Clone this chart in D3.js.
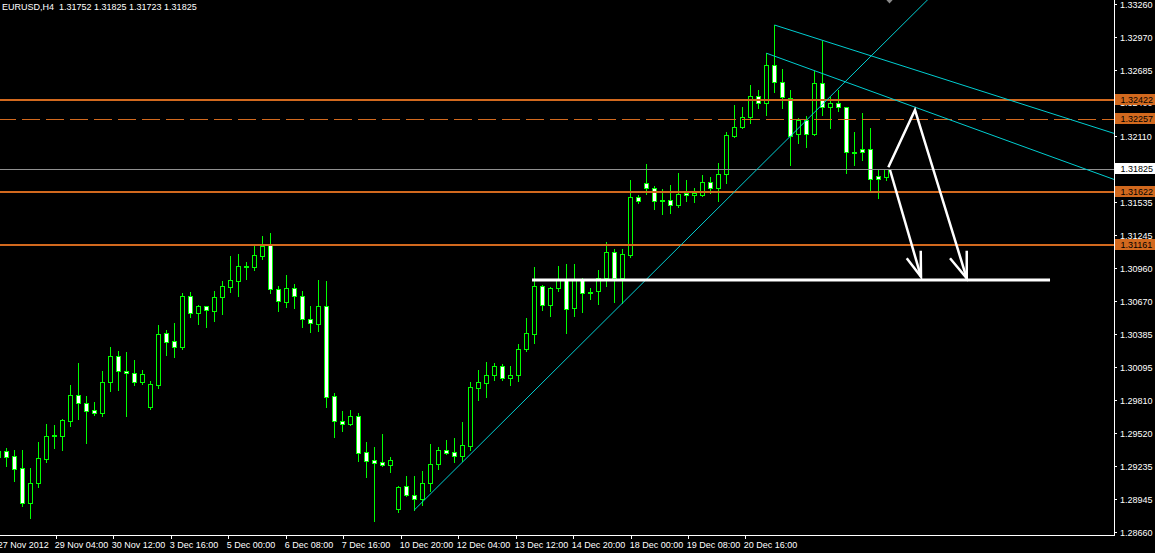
<!DOCTYPE html>
<html><head><meta charset="utf-8">
<script src="https://cdn.jsdelivr.net/npm/d3@7"></script>
<style>
html,body{margin:0;padding:0;background:#000;overflow:hidden;}
svg{display:block;}
</style></head><body>
<svg id="chart" width="1155" height="553"></svg>
<script>
// ---------------- DATA ----------------
const chartTitle = "EURUSD,H4  1.31752 1.31825 1.31723 1.31825";
const firstBar = -1; // index of first (partially visible) bar

const opens = [1.29316,1.29366,1.29319,1.29215,1.28910,1.29084,1.29299,1.29493,1.29499,1.29630,
1.29851,1.29781,1.29720,1.29700,1.29964,1.30190,1.30060,1.30042,1.29970,1.29752,
1.29941,1.30391,1.30321,1.30275,1.30713,1.30565,1.30626,1.30588,1.30704,1.30797,
1.30850,1.30975,1.30972,1.31067,1.31169,1.30774,1.30667,1.30783,1.30713,1.30513,
1.30475,1.30626,1.29842,1.29624,1.29604,1.29668,1.29354,1.29284,1.29267,1.29247,
1.28858,1.29061,1.28984,1.28950,1.29084,1.29250,1.29374,1.29354,1.29325,1.29409,
1.29918,1.29961,1.30024,1.30103,1.30005,1.30024,1.30251,1.30388,1.30806,1.30641,
1.30783,1.30855,1.30614,1.30855,1.30754,1.30763,1.30870,1.31099,1.30876,1.31073,
1.31581,1.31698,1.31654,1.31541,1.31553,1.31510,1.31617,1.31596,1.31599,1.31707,
1.31654,1.31776,1.32113,1.32186,1.32273,1.32462,1.32395,1.32726,1.32578,1.32444,
1.32125,1.32250,1.32125,1.32569,1.32359,1.32395,1.32359,1.31974,1.31997,1.31995,
1.31758,1.31752];

const highs = [1.29389,1.29389,1.29374,1.29374,1.29218,1.29446,1.29602,1.29593,1.29645,1.29941,
1.30132,1.29842,1.29796,1.30062,1.30272,1.30237,1.30228,1.30158,1.30069,1.29976,
1.30463,1.30420,1.30481,1.30739,1.30751,1.30635,1.30629,1.30760,1.30847,1.31064,
1.31082,1.31012,1.31152,1.31239,1.31265,1.30803,1.30899,1.30821,1.30760,1.30629,
1.30855,1.30846,1.29868,1.29714,1.29723,1.29694,1.29445,1.29402,1.29513,1.29311,
1.29061,1.29148,1.29148,1.29195,1.29423,1.29401,1.29461,1.29479,1.29618,1.29964,
1.30069,1.30141,1.30132,1.30121,1.30106,1.30295,1.30524,1.30969,1.30812,1.30797,
1.30978,1.30995,1.30995,1.30870,1.30783,1.30943,1.31187,1.31122,1.31122,1.31727,
1.31596,1.31866,1.31674,1.31645,1.31684,1.31784,1.31727,1.31660,1.31770,1.31756,
1.31874,1.32148,1.32380,1.32359,1.32554,1.32511,1.32833,1.33077,1.32694,1.32511,
1.32264,1.32284,1.32679,1.32940,1.32453,1.32511,1.32365,1.32148,1.32308,1.32183,
1.31820,1.31825];

const lows = [1.29287,1.29235,1.29107,1.28887,1.28785,1.29055,1.29273,1.29395,1.29374,1.29583,
1.29645,1.29438,1.29679,1.29674,1.29891,1.29897,1.29674,1.29941,1.29952,1.29731,
1.29918,1.30202,1.30188,1.30251,1.30536,1.30475,1.30449,1.30501,1.30562,1.30754,
1.30719,1.30867,1.30942,1.31041,1.30739,1.30588,1.30623,1.30614,1.30442,1.30405,
1.30414,1.29752,1.29491,1.29543,1.29593,1.29281,1.29141,1.28757,1.29233,1.29186,
1.28838,1.28972,1.28852,1.28898,1.29017,1.29212,1.29336,1.29273,1.29281,1.29374,
1.29810,1.29839,1.29983,1.29983,1.29941,1.29976,1.30237,1.30309,1.30594,1.30542,
1.30760,1.30394,1.30542,1.30577,1.30690,1.30647,1.30803,1.30667,1.30652,1.31059,
1.31529,1.31602,1.31471,1.31428,1.31443,1.31489,1.31544,1.31538,1.31590,1.31612,
1.31544,1.31704,1.32104,1.32177,1.32220,1.32350,1.32291,1.32496,1.32357,1.31857,
1.32052,1.32017,1.32122,1.32291,1.32179,1.32328,1.31790,1.31857,1.31901,1.31630,
1.31572,1.31723];

const closes = [1.29366,1.29316,1.29212,1.28910,1.29084,1.29302,1.29493,1.29502,1.29633,1.29851,
1.29781,1.29717,1.29700,1.29964,1.30190,1.30060,1.30042,1.29970,1.30034,1.29947,
1.30382,1.30318,1.30275,1.30713,1.30565,1.30626,1.30591,1.30704,1.30800,1.30853,
1.30975,1.30978,1.31070,1.31154,1.30774,1.30669,1.30783,1.30713,1.30513,1.30478,
1.30626,1.29839,1.29624,1.29598,1.29668,1.29352,1.29276,1.29258,1.29247,1.29287,
1.29052,1.28981,1.28950,1.29084,1.29250,1.29371,1.29352,1.29325,1.29415,1.29920,
1.29964,1.30027,1.30103,1.30005,1.30027,1.30251,1.30391,1.30800,1.30641,1.30783,
1.30855,1.30606,1.30855,1.30739,1.30751,1.30870,1.31099,1.30876,1.31082,1.31581,
1.31547,1.31654,1.31541,1.31550,1.31510,1.31605,1.31596,1.31612,1.31707,1.31654,
1.31779,1.32119,1.32186,1.32273,1.32462,1.32395,1.32732,1.32578,1.32447,1.32113,
1.32250,1.32125,1.32569,1.32359,1.32395,1.32365,1.31968,1.31971,1.31974,1.31739,
1.31739,1.31825];

const priceTicks = [1.33260,1.32970,1.32685,1.32400,1.32110,1.31825,1.31535,1.31245,1.30960,
1.30670,1.30385,1.30095,1.29810,1.29520,1.29235,1.28945,1.28660];

const timeLabels = ["27 Nov 2012","29 Nov 04:00","30 Nov 12:00","3 Dec 16:00","5 Dec 00:00",
"6 Dec 08:00","7 Dec 16:00","10 Dec 20:00","12 Dec 04:00","13 Dec 12:00","14 Dec 20:00",
"18 Dec 00:00","19 Dec 08:00","20 Dec 16:00"];

const levelPrices = [1.32422, 1.31622, 1.31161];   // solid horizontal lines
const dashedLevelPrices = [1.32257];               // dashed horizontal line
const bidPrice = 1.31825;

// trend lines: [bar1, price1, bar2, price2] (rays to the right)
const trendRays = [
  [50.98, 1.28852, 84.21, 1.31154],
  [96, 1.33077, 138.38, 1.32134],
  [95, 1.32831, 138.38, 1.31733]
];

// white hand-drawn annotations: [bar, price]
const supportLine = [[65.69, 1.30856], [130.44, 1.30856]];
const zigzagPath = [[110.23, 1.31837], [113.56, 1.32337], [120.03, 1.30870]];
const arrowPath = [[110.44, 1.31814], [114.31, 1.30884]];
const arrowHeads = [
  [[112.53, 1.31045], [114.31, 1.30884], [114.28, 1.31111]],
  [[117.94, 1.31045], [120.03, 1.30870], [120.03, 1.31111]]
];

// ---------------- LAYOUT ----------------
const W = 1155, H = 553;
const plotRight = 1114, plotBottom = 535;
const FONT = "'Liberation Sans', Arial, sans-serif";
const GREEN = "#00ff00", ORANGE = "#D2691E", CYAN = "#00CED1";

const svg = d3.select("#chart");
svg.append("rect").attr("width", W).attr("height", H).attr("fill", "#000");

const x = d3.scaleLinear().domain([0, 110]).range([6.5, 886.5]);
const y = d3.scaleLinear().domain([1.28660, 1.33260]).range([532, 4]);

svg.append("clipPath").attr("id", "plotClip").append("rect")
  .attr("x", 0).attr("y", 0).attr("width", plotRight).attr("height", plotBottom);
const plot = svg.append("g").attr("clip-path", "url(#plotClip)");

// candles
const candles = opens.map((o, i) => ({ i: i + firstBar, o, h: highs[i], l: lows[i], c: closes[i] }));
const cg = plot.append("g").attr("shape-rendering", "crispEdges");
const cs = cg.selectAll("g").data(candles).join("g");
cs.append("line")
  .attr("x1", d => x(d.i)).attr("x2", d => x(d.i))
  .attr("y1", d => Math.round(y(d.h))).attr("y2", d => Math.round(y(d.l)) + 1)
  .attr("stroke", GREEN).attr("stroke-width", 1);
cs.append("rect")
  .attr("x", d => x(d.i) - 2).attr("width", 4)
  .attr("y", d => Math.round(y(Math.max(d.o, d.c))) + 0.5)
  .attr("height", d => Math.max(1, Math.round(y(Math.min(d.o, d.c))) - Math.round(y(Math.max(d.o, d.c)))))
  .attr("fill", d => d.c >= d.o ? "#000" : "#fff")
  .attr("stroke", GREEN).attr("stroke-width", 1);

// horizontal levels
const lg = plot.append("g").attr("shape-rendering", "crispEdges");
lg.selectAll("line.lvl").data(levelPrices).join("line").attr("class", "lvl")
  .attr("x1", 0).attr("x2", plotRight)
  .attr("y1", d => Math.round(y(d))).attr("y2", d => Math.round(y(d)))
  .attr("stroke", ORANGE).attr("stroke-width", 2);
lg.selectAll("line.dash").data(dashedLevelPrices).join("line").attr("class", "dash")
  .attr("x1", 0).attr("x2", plotRight)
  .attr("y1", d => Math.floor(y(d)) + 0.5).attr("y2", d => Math.floor(y(d)) + 0.5)
  .attr("stroke", ORANGE).attr("stroke-width", 1)
  .attr("stroke-dasharray", "18,6").attr("stroke-dashoffset", 2);
lg.append("line")
  .attr("x1", 0).attr("x2", plotRight)
  .attr("y1", Math.round(y(bidPrice)) + 0.5).attr("y2", Math.round(y(bidPrice)) + 0.5)
  .attr("stroke", "#909090").attr("stroke-width", 1);

// trend rays (cyan)
const rayEnd = 150;
plot.selectAll("line.ray").data(trendRays).join("line").attr("class", "ray")
  .attr("x1", d => x(d[0])).attr("y1", d => y(d[1]))
  .attr("x2", x(rayEnd))
  .attr("y2", d => y(d[1] + (d[3] - d[1]) / (d[2] - d[0]) * (rayEnd - d[0])))
  .attr("stroke", CYAN).attr("stroke-width", 1);

// white annotations
const lineGen = d3.line().x(d => x(d[0])).y(d => y(d[1]));
plot.append("path").attr("d", lineGen(supportLine))
  .attr("stroke", "#fff").attr("stroke-width", 3).attr("fill", "none");
[zigzagPath, arrowPath].concat(arrowHeads).forEach(p => {
  plot.append("path").attr("d", lineGen(p))
    .attr("stroke", "#fff").attr("stroke-width", 2.5).attr("fill", "none")
    .attr("stroke-linejoin", "miter");
});

// chart shift marker (gray)
svg.append("path").attr("d", "M885.5,-1L893.5,-1L889.5,3.5Z").attr("fill", "#8a8a8a");

// frame
const fg = svg.append("g").attr("shape-rendering", "crispEdges");
fg.append("line").attr("x1", plotRight + 0.5).attr("x2", plotRight + 0.5)
  .attr("y1", 0).attr("y2", plotBottom + 1).attr("stroke", "#fff");
fg.append("line").attr("x1", 0).attr("x2", plotRight + 1)
  .attr("y1", plotBottom + 0.5).attr("y2", plotBottom + 0.5).attr("stroke", "#fff");

// right price axis
const yAxis = d3.axisRight(y).tickValues(priceTicks).tickSize(3).tickPadding(3)
  .tickFormat(d => d.toFixed(5));
const ya = svg.append("g").attr("transform", `translate(${plotRight},0)`).call(yAxis)
  .attr("font-family", FONT).attr("font-size", 9);
ya.select(".domain").remove();
ya.selectAll(".tick line").attr("stroke", "#fff").attr("shape-rendering", "crispEdges");
ya.selectAll(".tick text").attr("fill", "#fff").attr("dy", "0.36em");

// price label boxes
function priceBox(p, fill) {
  const cy = Math.round(y(p));
  svg.append("rect").attr("x", plotRight + 1).attr("y", cy - 6).attr("width", W - plotRight - 1)
    .attr("height", 11).attr("fill", fill).attr("shape-rendering", "crispEdges");
  svg.append("text").attr("x", plotRight + 6.5).attr("y", cy + 3.3)
    .attr("font-family", FONT).attr("font-size", 9).attr("fill", "#000").text(p.toFixed(5));
}
levelPrices.concat(dashedLevelPrices).forEach(p => priceBox(p, ORANGE));
priceBox(bidPrice, "#fff");

// bottom time axis
const firstTickBar = -1.0, tickStepBars = 7.1825;
const tg = svg.append("g");
timeLabels.forEach((t, j) => {
  const px = Math.round(x(firstTickBar + j * tickStepBars)) + 0.5;
  tg.append("line").attr("x1", px).attr("x2", px).attr("y1", plotBottom).attr("y2", plotBottom + 4)
    .attr("stroke", "#fff").attr("shape-rendering", "crispEdges");
  tg.append("text").attr("x", px - 1.8).attr("y", 548)
    .attr("font-family", FONT).attr("font-size", 9).attr("fill", "#fff").text(t);
});

// title
svg.append("text").attr("x", 2).attr("y", 10)
  .attr("font-family", FONT).attr("font-size", 9).attr("fill", "#fff")
  .style("white-space", "pre").text(chartTitle);
</script>
</body></html>
